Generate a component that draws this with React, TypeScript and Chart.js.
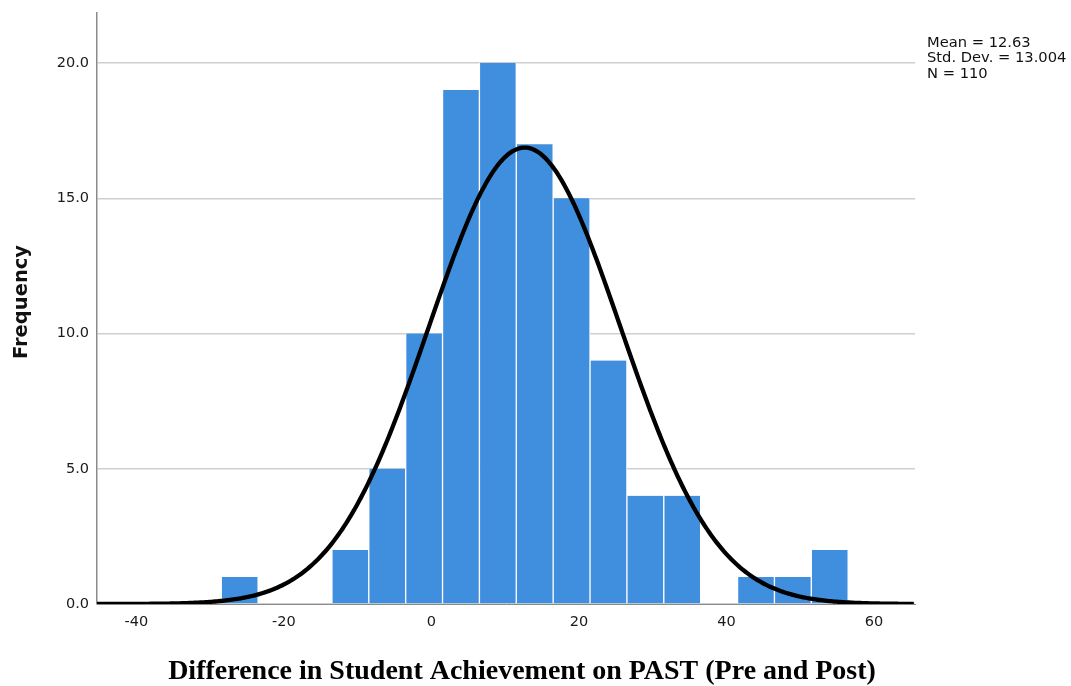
import React, { useEffect, useRef } from "react";
import { Chart, registerables } from "chart.js";

Chart.register(...registerables);

// Histogram bins: centre of each 5-point bin and its count
const BIN_CENTERS = [-26, -11, -6, -1, 4, 9, 14, 19, 24, 29, 34, 44, 49, 54];
const BIN_COUNTS = [1, 2, 5, 10, 19, 20, 17, 15, 9, 4, 4, 1, 1, 2];
const BIN_WIDTH = 5;

// Summary statistics shown in the corner and used for the fitted normal curve
const MEAN = 12.63;
const STD_DEV = 13.004;
const N = 110;
const STAT_LINES = ["Mean = 12.63", "Std. Dev. = 13.004", "N = 110"];

const X_TICKS = [-40, -20, 0, 20, 40, 60];
const Y_TICKS = [0, 5, 10, 15, 20];
const X_MIN = -45.35;
const X_MAX = 65.56;
const Y_MAX = 21.85;

const X_TITLE = "Difference in Student Achievement on PAST (Pre and Post)";
const Y_TITLE = "Frequency";

// Normal density scaled to histogram counts (N * bin width)
function normalCurve() {
  const pts: { x: number; y: number }[] = [];
  const k = (N * BIN_WIDTH) / (STD_DEV * Math.sqrt(2 * Math.PI));
  for (let x = X_MIN; x <= X_MAX + 1e-9; x += 0.25) {
    const z = (x - MEAN) / STD_DEV;
    pts.push({ x, y: k * Math.exp(-0.5 * z * z) });
  }
  return pts;
}

// Axis titles and the statistics block, placed on the canvas
const annotations = {
  id: "annotations",
  afterDraw(chart: Chart) {
    const ctx = chart.ctx;
    ctx.save();

    ctx.fillStyle = "#111";
    ctx.font = '14.7px "DejaVu Sans"';
    ctx.textAlign = "left";
    ctx.textBaseline = "alphabetic";
    STAT_LINES.forEach((line, i) => {
      ctx.fillText(line, 927, 46.5 + i * 15.8);
    });

    ctx.fillStyle = "#000";
    ctx.font = 'bold 28px "Liberation Serif"';
    ctx.textAlign = "center";
    ctx.textBaseline = "middle";
    ctx.fillText(X_TITLE, 522, 672);

    ctx.fillStyle = "#111";
    ctx.font = 'bold 19.5px "DejaVu Sans"';
    ctx.translate(22, 302);
    ctx.rotate(-Math.PI / 2);
    ctx.fillText(Y_TITLE, 0, 0);

    ctx.restore();
  },
};

export default function App() {
  const canvasRef = useRef<HTMLCanvasElement | null>(null);

  useEffect(() => {
    if (!canvasRef.current) return;
    const chart = new Chart(canvasRef.current, {
      type: "bar",
      data: {
        datasets: [
          {
            type: "line",
            data: normalCurve(),
            borderColor: "#000",
            borderWidth: 4.3,
            pointRadius: 0,
            fill: false,
            tension: 0,
            order: 0,
          } as any,
          {
            type: "bar",
            data: BIN_CENTERS.map((x, i) => ({ x, y: BIN_COUNTS[i] })),
            backgroundColor: "#3f8fde",
            borderColor: "#ffffff",
            borderWidth: { left: 1, right: 1, top: 0, bottom: 0 },
            borderSkipped: false,
            barPercentage: 1,
            categoryPercentage: 1,
            order: 1,
          } as any,
        ],
      },
      options: {
        responsive: false,
        animation: false,
        layout: { padding: { top: 13, right: 156, left: 0, bottom: 0 } },
        plugins: {
          legend: { display: false },
          tooltip: { enabled: false },
        },
        scales: {
          x: {
            type: "linear",
            min: X_MIN,
            max: X_MAX,
            offset: false,
            grid: { display: false, drawTicks: false },
            border: { display: true, color: "#8a8a8a", width: 1 },
            afterBuildTicks: (scale: any) => {
              scale.ticks = X_TICKS.map((value) => ({ value }));
            },
            afterFit: (scale: any) => {
              scale.height = 82;
              scale.paddingLeft = 0;
              scale.paddingRight = 0;
            },
            ticks: {
              padding: 10,
              color: "#1a1a1a",
              font: { family: "DejaVu Sans", size: 14.5 },
              maxRotation: 0,
              callback: (v: any) => String(v),
            },
          },
          y: {
            type: "linear",
            min: 0,
            max: Y_MAX,
            grid: { color: "#cfcfcf", lineWidth: 1.5, drawTicks: false },
            border: { display: true, color: "#8a8a8a", width: 1.5 },
            afterBuildTicks: (scale: any) => {
              scale.ticks = Y_TICKS.map((value) => ({ value }));
            },
            afterFit: (scale: any) => {
              scale.width = 97;
              scale.paddingTop = 0;
              scale.paddingBottom = 0;
            },
            ticks: {
              padding: 8,
              color: "#1a1a1a",
              font: { family: "DejaVu Sans", size: 14.5 },
              callback: (v: any) => Number(v).toFixed(1),
            },
          },
        },
      },
      plugins: [annotations],
    });
    return () => chart.destroy();
  }, []);

  return (
    <div style={{ position: "fixed", left: 0, top: 0, width: 1071, height: 686, background: "#fff" }}>
      <canvas ref={canvasRef} width={1071} height={686} />
    </div>
  );
}
